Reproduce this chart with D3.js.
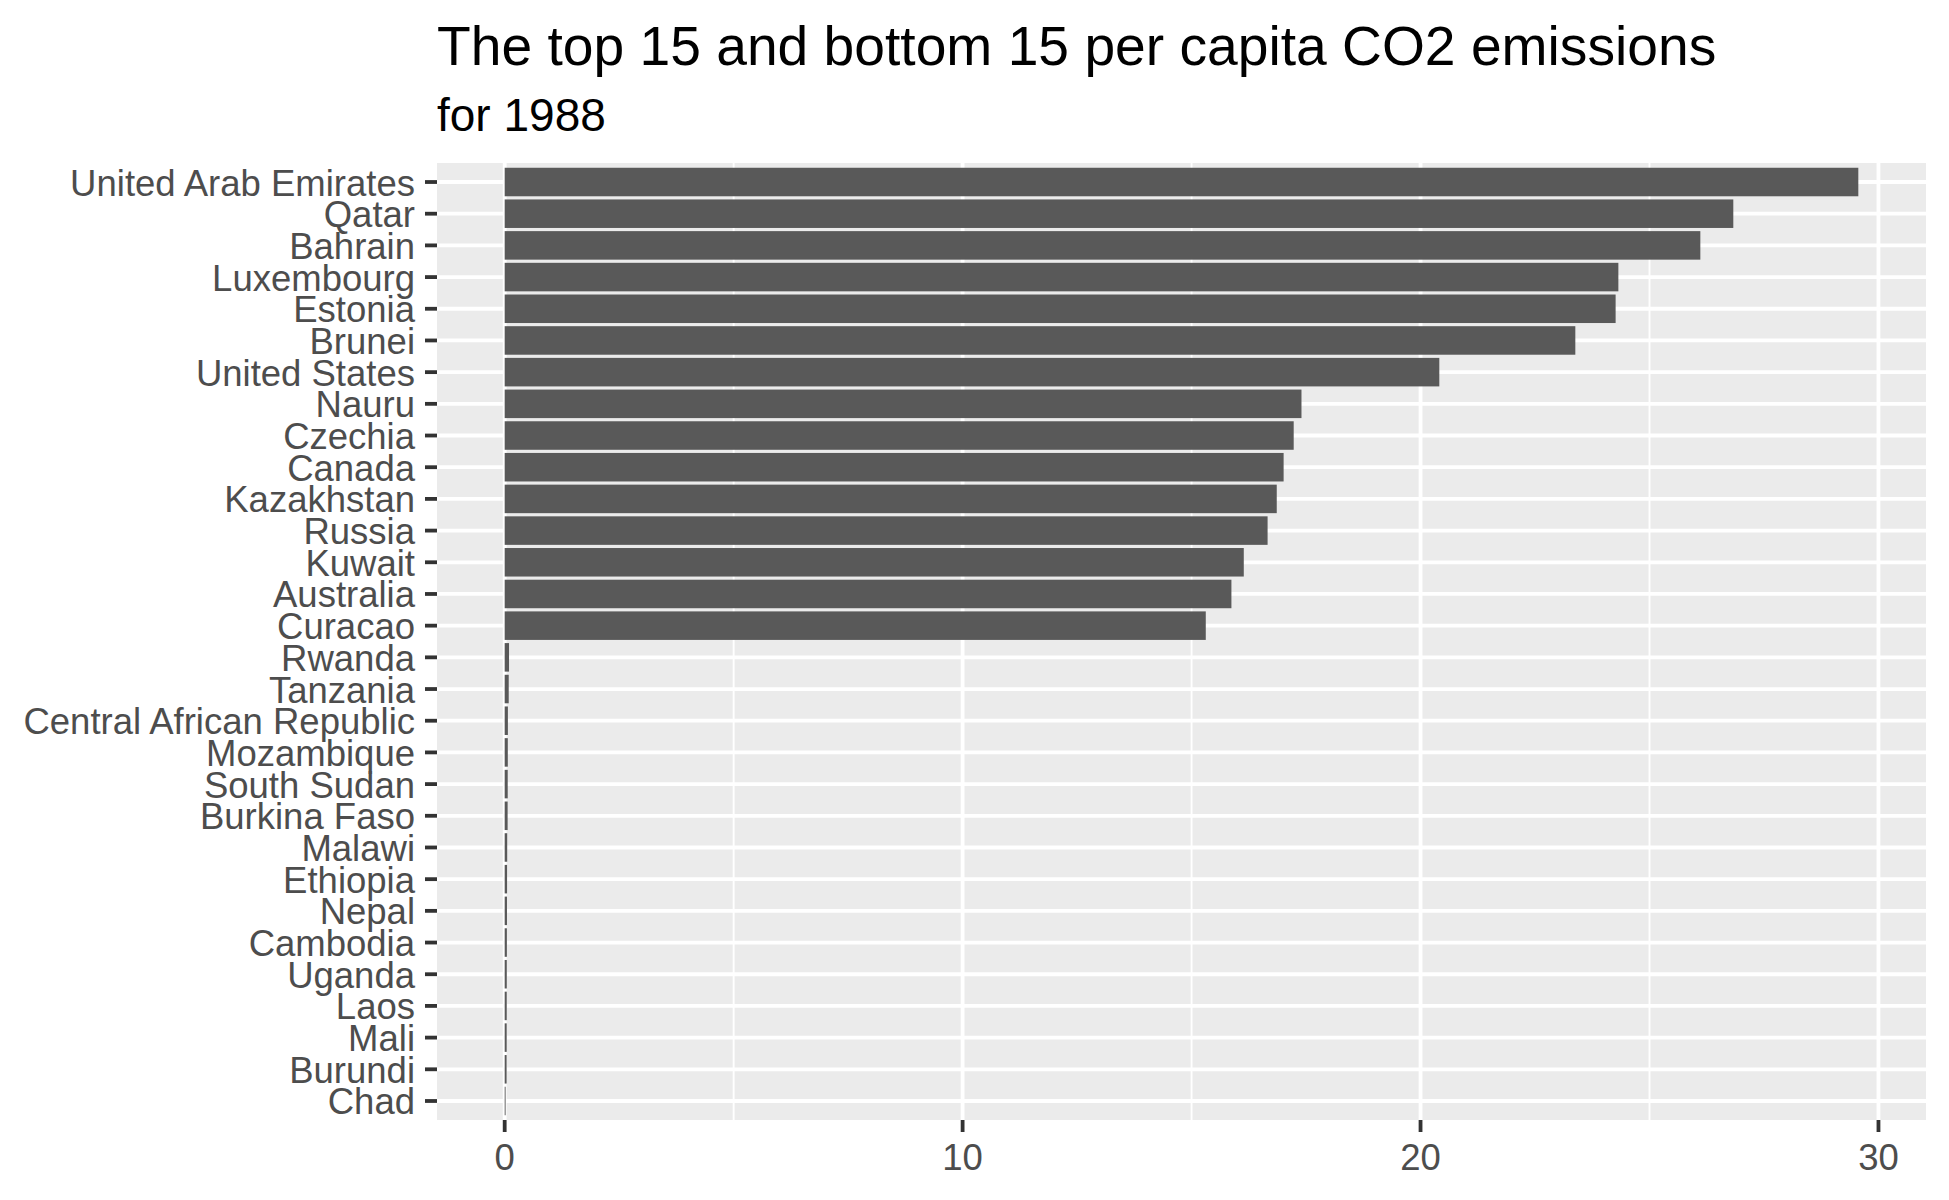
<!DOCTYPE html>
<html>
<head>
<meta charset="utf-8">
<script src="https://cdn.jsdelivr.net/npm/d3@7"></script>
<style>
  html, body { margin: 0; padding: 0; background: #ffffff; }
  svg { display: block; }
  text { font-family: "Liberation Sans", Arial, sans-serif; }
</style>
</head>
<body>
<svg id="chart" width="1949" height="1200"></svg>
<script>
// ---- data (top to bottom) ----
const countries = [
  "United Arab Emirates", "Qatar", "Bahrain", "Luxembourg", "Estonia",
  "Brunei", "United States", "Nauru", "Czechia", "Canada",
  "Kazakhstan", "Russia", "Kuwait", "Australia", "Curacao",
  "Rwanda", "Tanzania", "Central African Republic", "Mozambique", "South Sudan",
  "Burkina Faso", "Malawi", "Ethiopia", "Nepal", "Cambodia",
  "Uganda", "Laos", "Mali", "Burundi", "Chad"
];
const emissions = [
  29.56, 26.83, 26.11, 24.32, 24.26,
  23.38, 20.41, 17.40, 17.23, 17.01,
  16.86, 16.66, 16.14, 15.87, 15.31,
  0.095, 0.088, 0.070, 0.068, 0.066,
  0.064, 0.055, 0.052, 0.050, 0.048,
  0.046, 0.045, 0.044, 0.042, 0.020
];
const majorTicks = [0, 10, 20, 30];
const minorTicks = [5, 15, 25];
const titleText = "The top 15 and bottom 15 per capita CO2 emissions";
const subtitleText = "for 1988";

// ---- layout ----
const panel = { left: 437, right: 1926, top: 163, bottom: 1120 };
const svg = d3.select("#chart");

const maxVal = d3.max(emissions);
const x = d3.scaleLinear()
  .domain([-0.05 * maxVal, 1.05 * maxVal])
  .range([panel.left, panel.right]);

const y = d3.scaleBand()
  .domain(countries)
  .range([panel.top, panel.bottom])
  .paddingInner(0.1)
  .paddingOuter(0.15);

const majorW = 3.8, minorW = 1.9;

// panel background
svg.append("rect")
  .attr("x", panel.left).attr("y", panel.top)
  .attr("width", panel.right - panel.left)
  .attr("height", panel.bottom - panel.top)
  .attr("fill", "#EBEBEB");

const grid = svg.append("g");
grid.selectAll("line.minor").data(minorTicks).join("line")
  .attr("x1", d => x(d)).attr("x2", d => x(d))
  .attr("y1", panel.top).attr("y2", panel.bottom)
  .attr("stroke", "#ffffff").attr("stroke-width", minorW);
grid.selectAll("line.majx").data(majorTicks).join("line")
  .attr("x1", d => x(d)).attr("x2", d => x(d))
  .attr("y1", panel.top).attr("y2", panel.bottom)
  .attr("stroke", "#ffffff").attr("stroke-width", majorW);
grid.selectAll("line.majy").data(countries).join("line")
  .attr("x1", panel.left).attr("x2", panel.right)
  .attr("y1", d => y(d) + y.bandwidth() / 2)
  .attr("y2", d => y(d) + y.bandwidth() / 2)
  .attr("stroke", "#ffffff").attr("stroke-width", majorW);

// bars
const rows = countries.map((c, i) => ({ country: c, value: emissions[i] }));
svg.append("g").selectAll("rect").data(rows).join("rect")
  .attr("x", x(0))
  .attr("y", d => y(d.country))
  .attr("width", d => x(d.value) - x(0))
  .attr("height", y.bandwidth())
  .attr("fill", "#595959");

// y axis (ticks + labels)
const yAxis = svg.append("g");
yAxis.selectAll("line").data(countries).join("line")
  .attr("x1", panel.left - 12).attr("x2", panel.left)
  .attr("y1", d => y(d) + y.bandwidth() / 2)
  .attr("y2", d => y(d) + y.bandwidth() / 2)
  .attr("stroke", "#333333").attr("stroke-width", majorW);
yAxis.selectAll("text").data(countries).join("text")
  .attr("x", panel.left - 22)
  .attr("y", d => y(d) + y.bandwidth() / 2 + 13.5)
  .attr("text-anchor", "end")
  .attr("font-size", 36.5)
  .attr("fill", "#4D4D4D")
  .text(d => d);

// x axis
const xAxis = svg.append("g");
xAxis.selectAll("line").data(majorTicks).join("line")
  .attr("x1", d => x(d)).attr("x2", d => x(d))
  .attr("y1", panel.bottom).attr("y2", panel.bottom + 12)
  .attr("stroke", "#333333").attr("stroke-width", majorW);
xAxis.selectAll("text").data(majorTicks).join("text")
  .attr("x", d => x(d))
  .attr("y", 1170)
  .attr("text-anchor", "middle")
  .attr("font-size", 36.5)
  .attr("fill", "#4D4D4D")
  .text(d => d3.format("d")(d));

// titles
svg.append("text")
  .attr("x", panel.left).attr("y", 65)
  .attr("font-size", 55.2).attr("fill", "#000000")
  .text(titleText);
svg.append("text")
  .attr("x", panel.left).attr("y", 131)
  .attr("font-size", 46).attr("fill", "#000000")
  .text(subtitleText);
</script>
</body>
</html>
